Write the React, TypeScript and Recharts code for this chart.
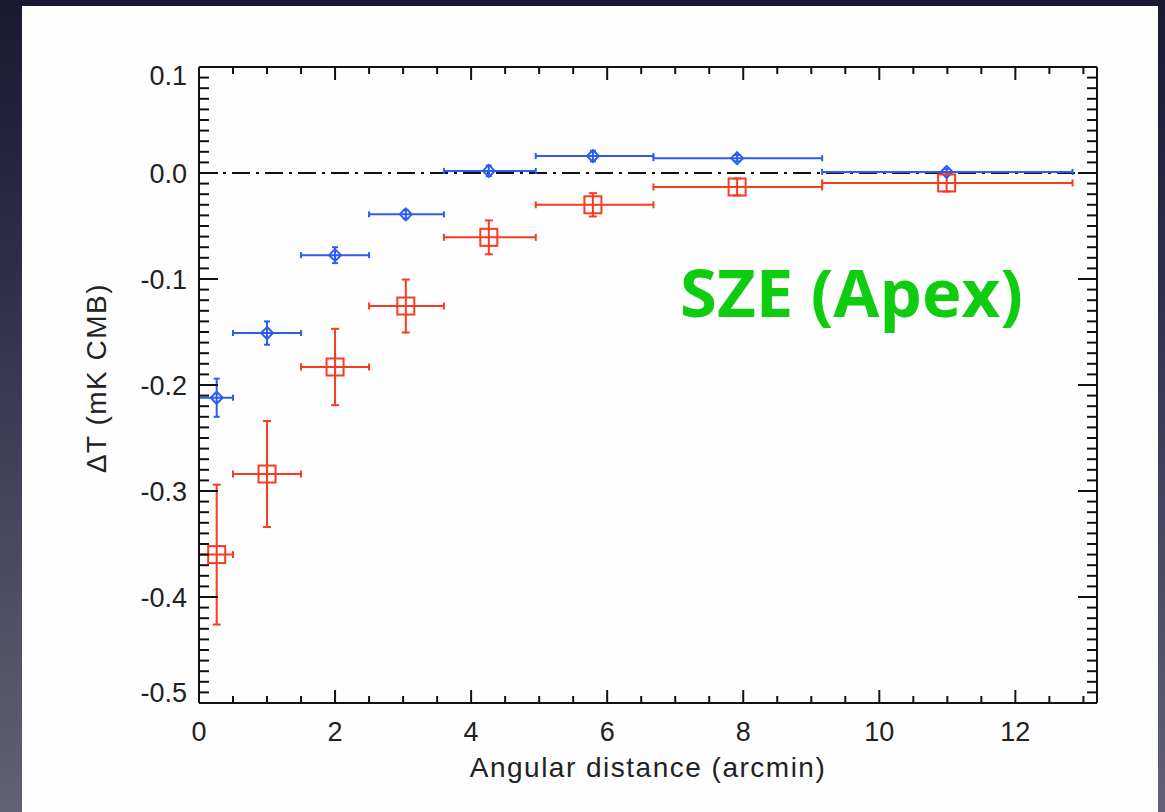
import React from 'react';
import { ScatterChart, Scatter, XAxis, YAxis, ErrorBar, ReferenceLine } from 'recharts';

// ---- data ----
const xCenter = [0.26, 1.0, 2.0, 3.04, 4.26, 5.79, 7.91, 10.99];
const binLow = [0.0, 0.5, 1.5, 2.5, 3.6, 4.95, 6.68, 9.16];
const binHigh = [0.5, 1.5, 2.5, 3.6, 4.95, 6.68, 9.16, 12.84];
const blueY = [-0.212, -0.151, -0.0775, -0.039, 0.002, 0.016, 0.014, 0.001];
const blueErr = [0.018, 0.011, 0.0075, 0.004, 0.005, 0.005, 0.003, 0.003];
const redY = [-0.36, -0.284, -0.183, -0.1255, -0.0607, -0.03, -0.0132, -0.0094];
const redErr = [0.066, 0.05, 0.036, 0.025, 0.016, 0.011, 0.008, 0.008];

const xMajorTicks = [0, 2, 4, 6, 8, 10, 12];
const xTickLabels = ['0', '2', '4', '6', '8', '10', '12'];
const xMinorTicks = [0, 0.5, 1, 1.5, 2, 2.5, 3, 3.5, 4, 4.5, 5, 5.5, 6, 6.5, 7, 7.5, 8, 8.5, 9, 9.5, 10, 10.5, 11, 11.5, 12, 12.5, 13];
const yMajorTicks = [0.1, 0.0, -0.1, -0.2, -0.3, -0.4, -0.5];
const yTickLabels = ['0.1', '0.0', '-0.1', '-0.2', '-0.3', '-0.4', '-0.5'];
const yMinorTicks: number[] = [];
for (let i = -50; i <= 10; i++) yMinorTicks.push(i / 100);

const xDomain = [0, 13.2];
const yDomain = [-0.5, 0.1];

const titleText = 'SZE (Apex)';
const xTitle = 'Angular distance (arcmin)';
const yTitle = 'ΔT (mK CMB)';

// ---- build series ----
const blueData = xCenter.map((x, i) => ({
  x,
  y: blueY[i],
  ex: [x - binLow[i], binHigh[i] - x],
  ey: blueErr[i],
}));
const redData = xCenter.map((x, i) => ({
  x,
  y: redY[i],
  ex: [x - binLow[i], binHigh[i] - x],
  ey: redErr[i],
}));

const BLUE = '#2c5cf2';
const RED = '#f53c22';
const AX = '#111111';
const FONT = '"Liberation Sans", Arial, Helvetica, sans-serif';

const isMajorX = (v: number) => xMajorTicks.some((t) => Math.abs(t - v) < 1e-6);
const majorYIndex = (v: number) => yMajorTicks.findIndex((t) => Math.abs(t - v) < 1e-6);

const BottomTick = (props: any) => {
  const { x, y, payload } = props;
  const v = payload.value;
  const idx = xMajorTicks.findIndex((t) => Math.abs(t - v) < 1e-6);
  const major = idx >= 0;
  return (
    <g>
      <line x1={x} x2={x} y1={y} y2={y - (major ? 13 : 7)} stroke={AX} strokeWidth={2} />
      {major && (
        <text x={x} y={y + 38} textAnchor="middle" fontSize={27} fontFamily={FONT} fill="#222">
          {xTickLabels[idx]}
        </text>
      )}
    </g>
  );
};

const TopTick = (props: any) => {
  const { x, y, payload } = props;
  const major = isMajorX(payload.value);
  return <line x1={x} x2={x} y1={y} y2={y + (major ? 13 : 7)} stroke={AX} strokeWidth={2} />;
};

const LeftTick = (props: any) => {
  const { x, y, payload } = props;
  const idx = majorYIndex(payload.value);
  const major = idx >= 0;
  // IDL keeps the end labels inside the axis span
  const shift = idx === 0 ? 8 : idx === yMajorTicks.length - 1 ? -11 : 0;
  return (
    <g>
      <line x1={x} x2={x + (major ? 19 : 10)} y1={y} y2={y} stroke={AX} strokeWidth={2} />
      {major && (
        <text x={x - 12} y={y + 9.5 + shift} textAnchor="end" fontSize={27} fontFamily={FONT} fill="#222">
          {yTickLabels[idx]}
        </text>
      )}
    </g>
  );
};

const RightTick = (props: any) => {
  const { x, y, payload } = props;
  const major = majorYIndex(payload.value) >= 0;
  return <line x1={x} x2={x - (major ? 19 : 10)} y1={y} y2={y} stroke={AX} strokeWidth={2} />;
};

const Diamond = (p: any) => {
  const { cx, cy } = p;
  if (cx == null || cy == null) return null;
  const r = 6;
  return (
    <path
      d={`M${cx},${cy - r}L${cx + r},${cy}L${cx},${cy + r}L${cx - r},${cy}Z`}
      fill="none"
      stroke={BLUE}
      strokeWidth={2}
    />
  );
};

const Square = (p: any) => {
  const { cx, cy } = p;
  if (cx == null || cy == null) return null;
  const h = 8.5;
  return <rect x={cx - h} y={cy - h} width={2 * h} height={2 * h} fill="none" stroke={RED} strokeWidth={2} />;
};

export default function App() {
  return (
    <div
      style={{
        position: 'fixed',
        left: 0,
        top: 0,
        width: 1165,
        height: 812,
        overflow: 'hidden',
        background: 'linear-gradient(to bottom, #191931 0%, #2c2c48 30%, #47475f 65%, #626273 100%)',
      }}
    >
      <div style={{ position: 'absolute', left: 22, top: 6, width: 1136, height: 820, background: '#fefefe' }} />
      <div style={{ position: 'absolute', left: 0, top: 0 }}>
        <ScatterChart width={1165} height={812} margin={{ top: 66, right: 67, bottom: 108, left: 198 }}>
          <XAxis
            xAxisId="b"
            type="number"
            dataKey="x"
            domain={xDomain}
            allowDataOverflow
            ticks={xMinorTicks}
            interval={0}
            height={1}
            tickSize={0}
            tickMargin={0}
            tickLine={false}
            tick={<BottomTick />}
            axisLine={{ stroke: AX, strokeWidth: 2 }}
          />
          <XAxis
            xAxisId="t"
            orientation="top"
            type="number"
            dataKey="x"
            domain={xDomain}
            allowDataOverflow
            ticks={xMinorTicks}
            interval={0}
            height={1}
            tickSize={0}
            tickMargin={0}
            tickLine={false}
            tick={<TopTick />}
            axisLine={{ stroke: AX, strokeWidth: 2 }}
          />
          <YAxis
            yAxisId="l"
            type="number"
            dataKey="y"
            domain={yDomain}
            allowDataOverflow
            ticks={yMinorTicks}
            interval={0}
            width={1}
            tickSize={0}
            tickMargin={0}
            tickLine={false}
            tick={<LeftTick />}
            axisLine={{ stroke: AX, strokeWidth: 2 }}
          />
          <YAxis
            yAxisId="r"
            orientation="right"
            type="number"
            dataKey="y"
            domain={yDomain}
            allowDataOverflow
            ticks={yMinorTicks}
            interval={0}
            width={1}
            tickSize={0}
            tickMargin={0}
            tickLine={false}
            tick={<RightTick />}
            axisLine={{ stroke: AX, strokeWidth: 2 }}
          />
          <ReferenceLine
            xAxisId="b"
            yAxisId="l"
            y={0}
            stroke={AX}
            strokeWidth={2}
            strokeDasharray="18 6 3 6"
          />
          <Scatter
            xAxisId="b"
            yAxisId="l"
            data={blueData}
            shape={<Diamond />}
            isAnimationActive={false}
          >
            <ErrorBar dataKey="ex" direction="x" width={3} stroke={BLUE} strokeWidth={2} isAnimationActive={false} />
            <ErrorBar dataKey="ey" direction="y" width={3} stroke={BLUE} strokeWidth={2} isAnimationActive={false} />
          </Scatter>
          <Scatter
            xAxisId="b"
            yAxisId="l"
            data={redData}
            shape={<Square />}
            isAnimationActive={false}
          >
            <ErrorBar dataKey="ex" direction="x" width={3.5} stroke={RED} strokeWidth={2} isAnimationActive={false} />
            <ErrorBar dataKey="ey" direction="y" width={4} stroke={RED} strokeWidth={2} isAnimationActive={false} />
          </Scatter>
        </ScatterChart>
      </div>
      <svg
        width={1165}
        height={812}
        style={{ position: 'absolute', left: 0, top: 0, pointerEvents: 'none' }}
      >
        <text x={680} y={317} fontSize={67} fontWeight="bold" fontFamily='"Open Sans", sans-serif' fill="#10cc10">
          {titleText}
        </text>
        <text x={648} y={777} textAnchor="middle" fontSize={28} letterSpacing={1.5} fontFamily={FONT} fill="#222">
          {xTitle}
        </text>
        <text
          x={0}
          y={0}
          transform="translate(106,378) rotate(-90)"
          textAnchor="middle"
          fontSize={28}
          letterSpacing={1.5}
          fontFamily={FONT}
          fill="#222"
        >
          {yTitle}
        </text>
      </svg>
    </div>
  );
}
